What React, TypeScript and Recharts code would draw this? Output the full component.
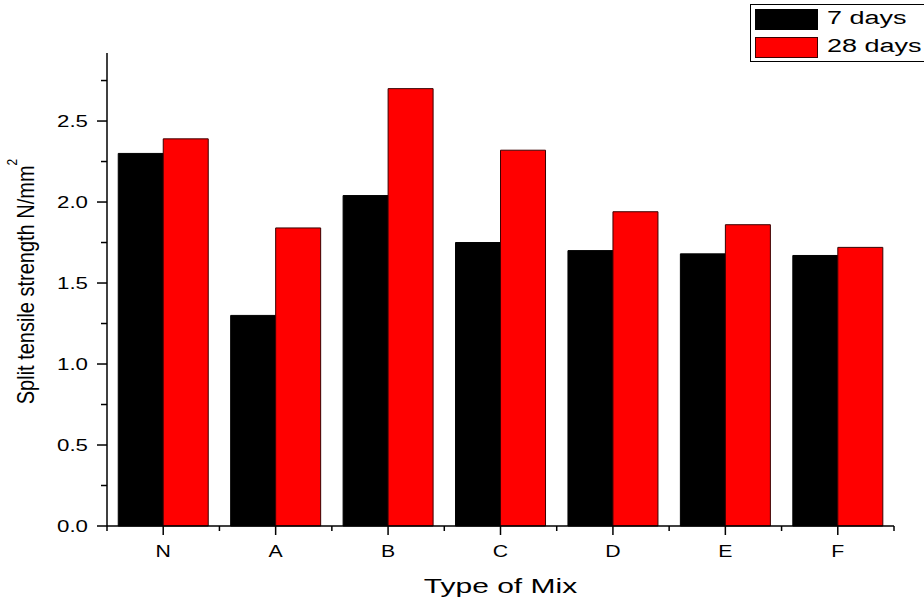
import { BarChart, Bar, XAxis, YAxis, Legend } from "recharts";

const categories = ["N", "A", "B", "C", "D", "E", "F"];
const sevenDays = [2.3, 1.3, 2.04, 1.75, 1.7, 1.68, 1.67];
const twentyEightDays = [2.39, 1.84, 2.7, 2.32, 1.94, 1.86, 1.72];
const yTicks = [0, 0.25, 0.5, 0.75, 1, 1.25, 1.5, 1.75, 2, 2.25, 2.5, 2.75];
const seriesNames = ["7 days", "28 days"];

const data = categories.map((mix, i) => ({
  mix,
  d7: sevenDays[i],
  d28: twentyEightDays[i],
}));

const W = 924;
const H = 603;
const margin = { top: 53, right: 30, bottom: 0, left: 0 };
const Y_AXIS_W = 107;
const X_AXIS_H = 77;
const BAND_HALF = (W - margin.left - margin.right - Y_AXIS_W) / categories.length / 2;
const FONT = "'Liberation Sans', Arial, sans-serif";

const StretchText = ({ x, y, sx, size, anchor, children }: any) => (
  <g transform={`translate(${x},${y}) scale(${sx},1)`}>
    <text x={0} y={0} textAnchor={anchor} fontSize={size} fontFamily={FONT} fill="#000">
      {children}
    </text>
  </g>
);

const YTick = ({ x, y, payload }: any) => {
  const v = payload.value;
  const major = Math.abs(v * 2 - Math.round(v * 2)) < 1e-6;
  return (
    <g>
      <line x1={x - (major ? 10 : 6)} x2={x} y1={y} y2={y} stroke="#000" strokeWidth={1.5} />
      {major && (
        <StretchText x={x - 19} y={y + 6} sx={1.35} size={16.5} anchor="end">
          {v.toFixed(1)}
        </StretchText>
      )}
    </g>
  );
};

const XTick = ({ x, y, payload, index }: any) => {
  const off = payload.offset || BAND_HALF;
  const last = index === categories.length - 1;
  return (
    <g stroke="#000" strokeWidth={1.5}>
      <line x1={x} x2={x} y1={y} y2={y + 9} />
      <line x1={x - off} x2={x - off} y1={y} y2={y + 5} />
      {last && <line x1={x + off} x2={x + off} y1={y} y2={y + 5} />}
      <g stroke="none">
        <StretchText x={x} y={y + 31} sx={1.25} size={17} anchor="middle">
          {payload.value}
        </StretchText>
      </g>
    </g>
  );
};

const YLabel = ({ viewBox }: any) => {
  const cy = viewBox.y + viewBox.height / 2 - 8;
  return (
    <g transform={`translate(34, ${cy}) scale(1.2,1) rotate(-90)`}>
      <text x={0} y={0} textAnchor="middle" fontSize={20} fontFamily={FONT} fill="#000">
        Split tensile strength N/mm
        <tspan dy={-14} fontSize={12}>2</tspan>
      </text>
    </g>
  );
};

const XLabel = ({ viewBox }: any) => (
  <StretchText x={viewBox.x + viewBox.width / 2} y={593} sx={1.5} size={20} anchor="middle">
    Type of Mix
  </StretchText>
);

const LegendBox = ({ payload }: any) => {
  const items = [...(payload || [])].sort(
    (a: any, b: any) => seriesNames.indexOf(a.value) - seriesNames.indexOf(b.value)
  );
  return (
    <div
      style={{
        border: "1px solid #000",
        height: 56,
        width: 200,
        background: "#fff",
        fontFamily: FONT,
        position: "relative",
      }}
    >
      {items.map((p: any, i: number) => (
        <div key={p.value} style={{ position: "absolute", left: 4, top: 4 + i * 28, height: 20 }}>
          <div
            style={{
              position: "absolute",
              left: 0,
              top: 0,
              width: 61,
              height: 19,
              background: p.color,
              border: "1px solid " + (i === 0 ? "#000" : "#3a0000"),
            }}
          />
          <div
            style={{
              position: "absolute",
              left: 72,
              top: -2,
              fontSize: 18,
              lineHeight: "22px",
              whiteSpace: "nowrap",
              transform: "scaleX(1.5)",
              transformOrigin: "left center",
              color: "#000",
            }}
          >
            {p.value}
          </div>
        </div>
      ))}
    </div>
  );
};

export default function App() {
  return (
    <div
      style={{
        position: "absolute",
        left: 0,
        top: 0,
        width: W,
        height: H,
        overflow: "hidden",
        background: "#fff",
      }}
    >
      <BarChart width={W} height={H} data={data} margin={margin} barCategoryGap="10%" barGap={0}>
        <XAxis
          dataKey="mix"
          height={X_AXIS_H}
          axisLine={{ stroke: "#000", strokeWidth: 1.5 }}
          tickLine={false}
          tickSize={0}
          tickMargin={0}
          interval={0}
          tick={<XTick />}
          label={{ content: <XLabel /> }}
        />
        <YAxis
          width={Y_AXIS_W}
          type="number"
          domain={[0, 2.92]}
          ticks={yTicks}
          interval={0}
          axisLine={{ stroke: "#000", strokeWidth: 1.5 }}
          tickLine={false}
          tickSize={0}
          tickMargin={0}
          tick={<YTick />}
          label={{ content: <YLabel /> }}
        />
        <Legend
          layout="horizontal"
          verticalAlign="middle"
          align="center"
          wrapperStyle={{ top: 4, left: 750, width: 200, height: 58 }}
          content={<LegendBox />}
        />
        <Bar dataKey="d7" name={seriesNames[0]} fill="#000" stroke="#000" isAnimationActive={false} />
        <Bar dataKey="d28" name={seriesNames[1]} fill="#ff0000" stroke="#3a0000" isAnimationActive={false} />
      </BarChart>
    </div>
  );
}
